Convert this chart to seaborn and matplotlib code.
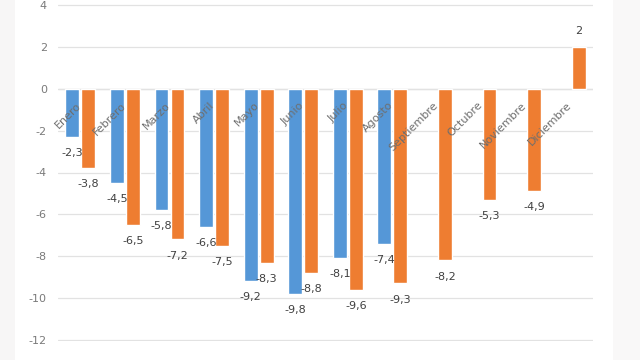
import matplotlib
matplotlib.use("Agg")
import matplotlib.pyplot as plt
import seaborn as sns
import pandas as pd
import numpy as np
from matplotlib.patches import Rectangle

months = ["Enero", "Febrero", "Marzo", "Abril", "Mayo", "Junio", "Julio",
          "Agosto", "Septiembre", "Octubre", "Noviembre", "Diciembre"]
serie_azul = [-2.3, -4.5, -5.8, -6.6, -9.2, -9.8, -8.1, -7.4,
              np.nan, np.nan, np.nan, np.nan]
serie_naranja = [-3.8, -6.5, -7.2, -7.5, -8.3, -8.8, -9.6, -9.3,
                 -8.2, -5.3, -4.9, 2.0]
series_names = ["Serie 1", "Serie 2"]
yticks = [4, 2, 0, -2, -4, -6, -8, -10, -12]

df = pd.DataFrame({
    "mes": months * 2,
    "serie": [series_names[0]] * 12 + [series_names[1]] * 12,
    "valor": serie_azul + serie_naranja,
})

sns.set_theme(style="white")
plt.rcParams['font.family'] = ['DejaVu Sans']

fig = plt.figure(figsize=(6.4, 3.6), dpi=100)
fig.patch.set_facecolor("white")
fig.add_artist(Rectangle((0, 0), 15/640, 1, transform=fig.transFigure,
                         facecolor="#f7f6f6", edgecolor="none", zorder=-1))
fig.add_artist(Rectangle((613/640, 0), 27/640, 1, transform=fig.transFigure,
                         facecolor="#f9f8f8", edgecolor="none", zorder=-1))

ax = fig.add_axes([58/640, 1 - 341/360, (593 - 58)/640, (341 - 4)/360])
ax.set_facecolor("white")

sns.barplot(data=df, x="mes", y="valor", hue="serie", order=months,
            hue_order=series_names, palette=["#5597D7", "#EE7D31"],
            width=0.72, gap=0.14, legend=False, ax=ax, saturation=1)

def fmt(v):
    if abs(v - round(v)) < 1e-9:
        return f"{v:.0f}"
    return f"{v:.1f}".replace(".", ",")

for cont in ax.containers:
    ax.bar_label(cont, fmt=fmt, padding=8, fontsize=8, color="#404040")

ax.set_xlim(-0.5, 11.5)
ax.set_ylim(-12.05, 4.05)
ax.set_yticks(yticks)
ax.set_yticklabels([str(t) for t in yticks], color="#7a7a7a", fontsize=8)
ax.tick_params(axis="y", length=0, pad=8)
ax.set_xticks([])
ax.set_xlabel("")
ax.set_ylabel("")
ax.yaxis.grid(True, color="#e2e2e2", linewidth=0.9)
ax.set_axisbelow(True)
for s in ax.spines.values():
    s.set_visible(False)
ax.axhline(0, color="#dddddd", linewidth=0.9, zorder=0)

for i, m in enumerate(months):
    ax.text(i - 0.1, -0.55, m, rotation=45, rotation_mode="anchor",
            ha="right", va="top", fontsize=8, color="#6e6e6e", zorder=5)

fig.savefig("out.png", dpi=100, facecolor=fig.get_facecolor())
